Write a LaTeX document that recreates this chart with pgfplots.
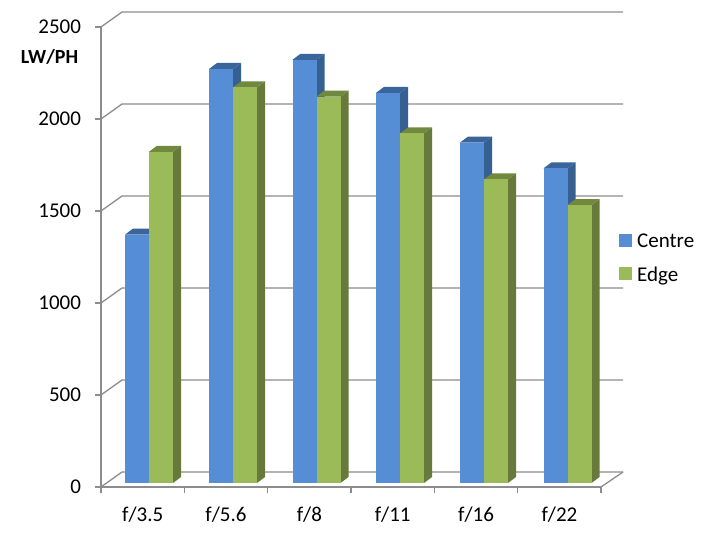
\documentclass[border=0pt]{standalone}
\usepackage{pgfplots}
\pgfplotsset{compat=1.18}
\usepackage{fontspec}
\setmainfont{Carlito}
\definecolor{bfront}{HTML}{558ED5}
\definecolor{bside}{HTML}{376092}
\definecolor{btop}{HTML}{3A659C}
\definecolor{gfront}{HTML}{9BBB59}
\definecolor{gside}{HTML}{677A3C}
\definecolor{gtop}{HTML}{71893F}
\definecolor{gridc}{HTML}{8C8C8C}
% one px = 1pt in x; 1px = 2500/460 units in y
\newcommand{\threedbar}[5]{%
  \pgfmathsetmacro{\xa}{#1}\pgfmathsetmacro{\xb}{#1+24}%
  \pgfmathsetmacro{\xc}{#1+32}\pgfmathsetmacro{\xd}{#1+8}%
  \pgfmathsetmacro{\ya}{21.7}\pgfmathsetmacro{\yb}{#2+21.7}%
  \pgfmathsetmacro{\yc}{#2+21.7+32.6}\pgfmathsetmacro{\ye}{21.7+32.6}%
  \addplot[fill=#4,draw=none,forget plot] coordinates {(\xb,\ya)(\xc,\ye)(\xc,\yc)(\xb,\yb)} --cycle;
  \addplot[fill=#5,draw=none,forget plot] coordinates {(\xa,\yb)(\xb,\yb)(\xc,\yc)(\xd,\yc)} --cycle;
  \addplot[fill=#3,draw=none,forget plot] coordinates {(\xa,\ya)(\xb,\ya)(\xb,\yb)(\xa,\yb)} --cycle;
}
\newcommand{\wall}[1]{%
  \pgfmathsetmacro{\ww}{#1+81.5}%
  \addplot[gridc,line width=1.3pt,forget plot] coordinates {(101,#1)(122,\ww)(623,\ww)};
}
\begin{document}
\begin{tikzpicture}[x=1pt,y=1pt]
\path[use as bounding box] (0,0) rectangle (701,534);
\begin{axis}[
  at={(101pt,47pt)},anchor=south west,
  scale only axis,width=500pt,height=460pt,
  xmin=101,xmax=601,ymin=0,ymax=2500,clip=false,
  axis x line*=bottom,axis y line*=left,
  axis line style={gridc,line width=1.4pt,-},
  xtick={101,184.3,267.7,351,434.3,517.7,601},
  xticklabels={},
  extra x ticks={142.7,226,309.4,392.7,476,559.4},
  extra x tick labels={f/3.5,f/5.6,f/8,f/11,f/16,f/22},
  extra x tick style={major tick length=0pt,xticklabel style={yshift=-16pt}},
  ytick={0,500,1000,1500,2000,2500},
  yticklabels={0,500,1000,1500,2000,2500},
  tick align=outside,
  major tick length=6.5pt,
  tick style={gridc,line width=1.2pt},
  tick label style={font=\fontsize{21}{22}\selectfont,text=black},
  yticklabel style={xshift=-10pt},
  legend image code/.code={\fill[#1,draw=none] (0pt,-6.5pt) rectangle (13pt,6.5pt);},
  legend style={at={(axis cs:619,1376)},anchor=north west,draw=none,fill=none,
    font=\fontsize{21}{22}\selectfont,row sep=19pt,inner sep=0pt,
    nodes={inner sep=0pt,text depth=0pt},
    /tikz/every odd column/.append style={column sep=5pt}},
  legend cell align=left,
]
\wall{0}\wall{500}\wall{1000}\wall{1500}\wall{2000}\wall{2500}
\addplot[gridc,line width=1.3pt,forget plot] coordinates {(601,0)(623,81.5)};
\threedbar{125}{1350}{bfront}{bside}{btop}
\threedbar{149}{1800}{gfront}{gside}{gtop}
\threedbar{209}{2250}{bfront}{bside}{btop}
\threedbar{233}{2150}{gfront}{gside}{gtop}
\threedbar{292.5}{2300}{bfront}{bside}{btop}
\threedbar{316.5}{2100}{gfront}{gside}{gtop}
\threedbar{376}{2120}{bfront}{bside}{btop}
\threedbar{400}{1900}{gfront}{gside}{gtop}
\threedbar{460}{1850}{bfront}{bside}{btop}
\threedbar{484}{1650}{gfront}{gside}{gtop}
\threedbar{543.5}{1710}{bfront}{bside}{btop}
\threedbar{567.5}{1510}{gfront}{gside}{gtop}
\addlegendimage{fill=bfront}
\addlegendentry{Centre}
\addlegendimage{fill=gfront}
\addlegendentry{Edge}
\node[font=\fontsize{20}{21}\selectfont\bfseries,anchor=center] at (axis cs:49.5,2337) {LW/PH};
\end{axis}
\end{tikzpicture}
\end{document}
